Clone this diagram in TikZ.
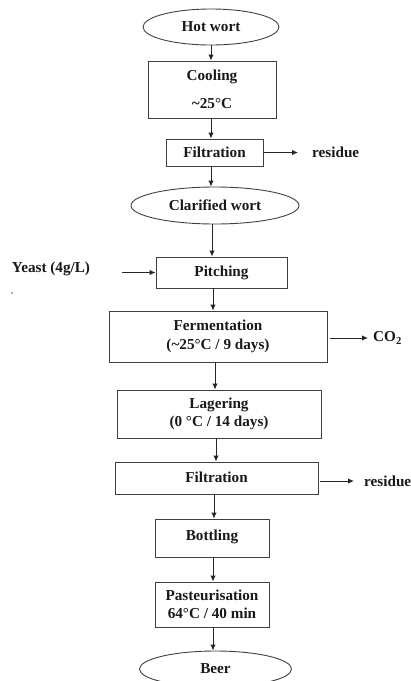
\documentclass[tikz,border=0pt]{standalone}
\usepackage{fontspec}
\setmainfont{Liberation Serif}
\usetikzlibrary{shapes.geometric,arrows.meta}
\begin{document}
\begin{tikzpicture}[x=1pt,y=-1pt,
  every node/.style={font=\fontsize{15.2}{17.5}\selectfont\bfseries, text=black!90},
  stepbox/.style={draw=black!75, line width=0.9pt, rectangle, inner sep=0pt, align=center},
  oval/.style={draw=black!75, line width=0.9pt, ellipse, inner sep=0pt},
  arr/.style={draw=black!85, line width=1pt, -{Latex[length=6pt,width=5.5pt]}},
  lbl/.style={inner sep=0pt, anchor=west}
]
\useasboundingbox (0,0) rectangle (411,681);

\node[oval, minimum width=136, minimum height=36] (hot) at (211,27) {Hot wort};
\node[stepbox, minimum width=128, minimum height=57] (cool) at (212,89.5) {Cooling\\[10pt]\textasciitilde25°C};
\node[stepbox, minimum width=97, minimum height=27] (filt1) at (214.5,152.5) {Filtration};
\node[lbl] (res1) at (312,152.5) {residue};
\node[oval, minimum width=168, minimum height=37] (clar) at (215,205.5) {Clarified wort};
\node[stepbox, minimum width=131, minimum height=31] (pitch) at (221.5,272.5) {Pitching};
\node[inner sep=0pt] (yeast) at (51,269) {Yeast (4g/L)};
\node[inner sep=0pt, font=\fontsize{9}{9}\selectfont] (mark) at (12,296) {'};
\node[stepbox, minimum width=218, minimum height=51] (ferm) at (218,336.5) {Fermentation\\[2pt](\textasciitilde25°C / 9 days)};
\node[lbl] (co2) at (373,338) {CO\textsubscript{2}};
\node[stepbox, minimum width=204, minimum height=48] (lag) at (219,414) {Lagering\\(0 °C / 14 days)};
\node[stepbox, minimum width=203, minimum height=32] (filt2) at (216.5,478) {\raisebox{2pt}{Filtration}};
\node[lbl] (res2) at (364,481) {residue};
\node[stepbox, minimum width=114, minimum height=38] (bott) at (212,538) {\raisebox{5pt}{Bottling}};
\node[stepbox, minimum width=114, minimum height=45] (past) at (212,604.5) {Pasteurisation\\64°C / 40 min};
\node[oval, minimum width=152, minimum height=36] (beer) at (215.5,669) {Beer};

% x positions of the vertical connectors
\coordinate (ax1) at (211,0);
\coordinate (ax2) at (211,0);
\coordinate (ax3) at (211,0);
\coordinate (ax4) at (212,0);
\coordinate (ax5) at (213,0);
\coordinate (ax6) at (215,0);
\coordinate (ax7) at (216,0);
\coordinate (ax8) at (214,0);
\coordinate (ax9) at (213,0);
\coordinate (ax10) at (213,0);

\draw[arr] (hot.south -| ax1) -- (cool.north -| ax1);
\draw[arr] (cool.south -| ax2) -- (filt1.north -| ax2);
\draw[arr] (filt1.south -| ax3) -- (clar.north -| ax3);
\draw[arr] (clar.south -| ax4) -- (pitch.north -| ax4);
\draw[arr] (pitch.south -| ax5) -- (ferm.north -| ax5);
\draw[arr] (ferm.south -| ax6) -- (lag.north -| ax6);
\draw[arr] (lag.south -| ax7) -- (filt2.north -| ax7);
\draw[arr] (filt2.south -| ax8) -- (bott.north -| ax8);
\draw[arr] (bott.south -| ax9) -- (past.north -| ax9);
\draw[arr] (past.south -| ax10) -- (beer.north -| ax10);

\draw[arr, shorten >=14pt] (filt1.east) -- (filt1.east -| res1.west);
\draw[arr, shorten <=32pt] (yeast.east |- pitch.west) -- (pitch.west);
\draw[arr, shorten <=3pt, shorten >=5pt] (ferm.east |- co2.west) -- (co2.west);
\draw[arr, shorten <=2pt, shorten >=10pt] (filt2.east |- res2.west) -- (res2.west);
\end{tikzpicture}
\end{document}
